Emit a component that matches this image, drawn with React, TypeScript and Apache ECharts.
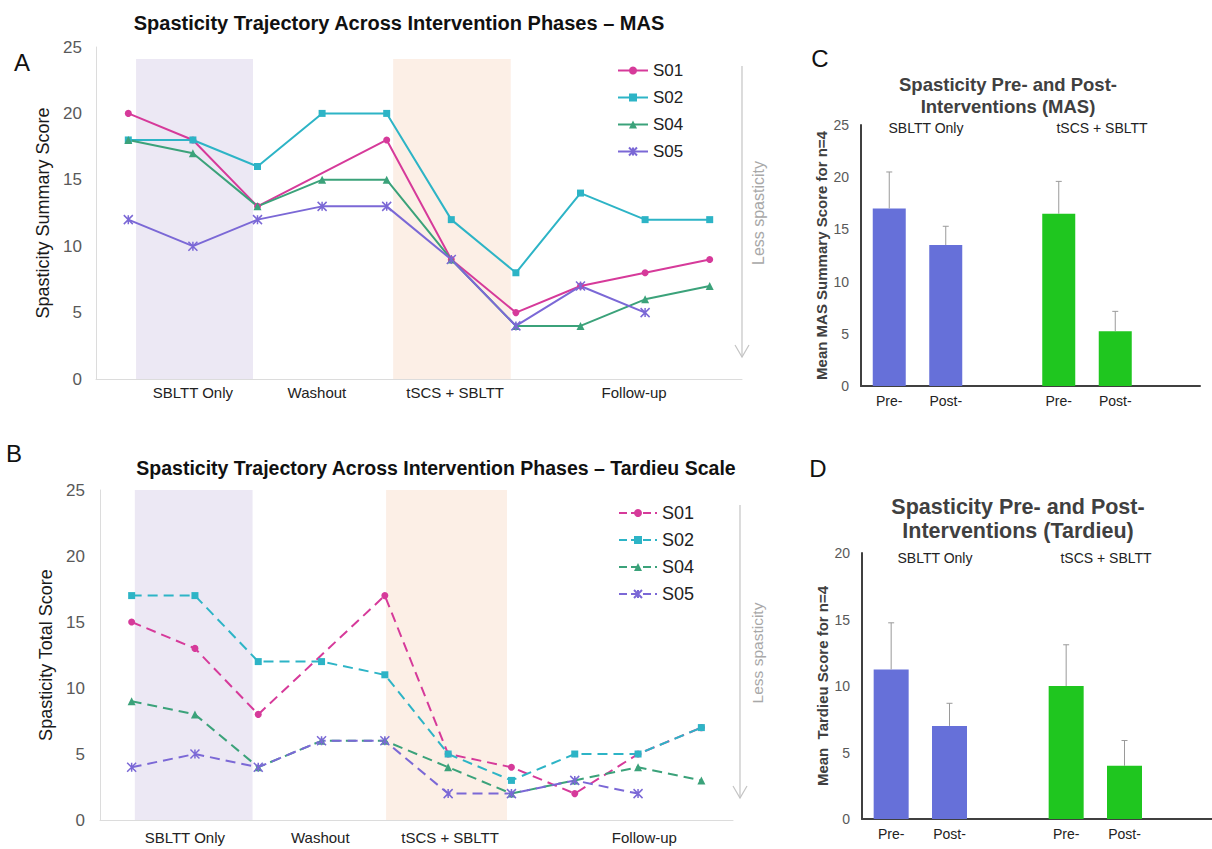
import React, { useEffect, useRef } from 'react';
import * as echarts from 'echarts';

// Participants and their line styling
const subjects = ['S01', 'S02', 'S04', 'S05'];
const subjectColors = ['#d63a9a', '#2db4c6', '#3ba27a', '#7b68d6'];
const subjectSymbols = ['circle', 'rect', 'triangle', 'path://M0,0L10,10M10,0L0,10M5,0L5,10'];
const subjectSymbolSizes = [7, 7, 8, 9];

// MAS summary scores at the ten assessment points (null = not assessed)
const masS01 = [20, 18, 13, null, 18, 9, 5, 7, 8, 9];
const masS02 = [18, 18, 16, 20, 20, 12, 8, 14, 12, 12];
const masS04 = [18, 17, 13, 15, 15, 9, 4, 4, 6, 7];
const masS05 = [12, 10, 12, 13, 13, 9, 4, 7, 5, null];

// Tardieu total scores at the same assessment points
const tardieuS01 = [15, 13, 8, null, 17, 5, 4, 2, 5, 7];
const tardieuS02 = [17, 17, 12, 12, 11, 5, 3, 5, 5, 7];
const tardieuS04 = [9, 8, 4, 6, 6, 4, 2, 3, 4, 3];
const tardieuS05 = [4, 5, 4, 6, 6, 2, 2, 3, 2, null];

// Phase labels along the assessment axis and the shaded intervention phases
const phaseLabels = ['SBLTT Only', 'Washout', 'tSCS + SBLTT', 'Follow-up'];
const masPhasePositions = [1, 2.92, 5.06, 7.83];
const tardieuPhasePositions = [0.84, 2.98, 5.03, 8.1];
const masBands = [[0.12, 1.93], [4.1, 5.92]];
const tardieuBands = [[0.05, 1.91], [4.02, 5.93]];
const masBandTop = 24.1;
const tardieuBandTop = 25;
const bandColors = ['#ece8f4', '#fcefe6'];

// Group means (n=4) with standard deviations
const barCategories = ['Pre-', 'Post-', '', 'Pre-', 'Post-', ''];
const barSlots = [0, 1, 3, 4];
const masMeans = [17, 13.5, 16.5, 5.25];
const masErrors = [3.5, 1.8, 3.1, 1.9];
const tardieuMeans = [11.25, 7, 10, 4];
const tardieuErrors = [3.5, 1.7, 3.1, 1.9];
const groupLabels = ['SBLTT Only', 'tSCS + SBLTT'];
const groupColors = ['#6670d9', '#1fc61f'];

const FONT = '"Liberation Sans", Arial, Helvetica, sans-serif';

function lineSeries(sets: (number | null)[][], axisIdx: number, dashed: boolean) {
  return sets.map((vals, k) => ({
    type: 'line',
    name: subjects[k],
    xAxisIndex: axisIdx,
    yAxisIndex: axisIdx,
    data: vals.map((v, i) => [i, v]).filter((p) => p[1] !== null),
    symbol: subjectSymbols[k],
    symbolSize: subjectSymbolSizes[k],
    showAllSymbol: true,
    lineStyle: { color: subjectColors[k], width: 2, type: dashed ? [10, 6] : 'solid' },
    itemStyle: {
      color: subjectColors[k],
      borderColor: subjectColors[k],
      borderWidth: k === 3 ? 1.5 : 0,
    },
    z: 3,
  }));
}

function bandSeries(bands: number[][], top: number, axisIdx: number) {
  return {
    type: 'line',
    name: 'phases',
    xAxisIndex: axisIdx,
    yAxisIndex: axisIdx,
    data: [],
    silent: true,
    z: 1,
    markArea: {
      silent: true,
      data: bands.map((b, j) => [
        { xAxis: b[0], yAxis: 0, itemStyle: { color: bandColors[j] } },
        { xAxis: b[1], yAxis: top },
      ]),
    },
  };
}

function phaseAxis(gridIndex: number, positions: number[], margin: number) {
  return {
    type: 'value',
    gridIndex,
    min: -0.5,
    max: 9.5,
    axisLine: { show: true, onZero: false, lineStyle: { color: '#dcdcdc', width: 1 } },
    axisTick: { show: false },
    splitLine: { show: false },
    axisLabel: {
      customValues: positions,
      margin,
      fontSize: 15,
      color: '#222',
      fontFamily: FONT,
      formatter: (v: number) => {
        const i = positions.findIndex((p) => Math.abs(p - v) < 1e-6);
        return i >= 0 ? phaseLabels[i] : '';
      },
    },
  };
}

function scoreAxis(gridIndex: number, name: string, nameGap: number, fontSize: number, margin: number) {
  return {
    type: 'value',
    gridIndex,
    min: 0,
    max: 25,
    interval: 5,
    name,
    nameLocation: 'middle',
    nameGap,
    nameTextStyle: { fontSize: 18, color: '#1a1a1a', fontFamily: FONT },
    axisLine: { show: true, onZero: false, lineStyle: { color: '#dcdcdc', width: 1 } },
    axisTick: { show: false },
    splitLine: { show: false },
    axisLabel: { fontSize, color: '#595959', margin, fontFamily: FONT },
  };
}

function barData(means: number[]) {
  return barCategories.map((_, i) => {
    const k = barSlots.indexOf(i);
    if (k < 0) return '-';
    return { value: means[k], itemStyle: { color: groupColors[k < 2 ? 0 : 1] } };
  });
}

function errorSeries(means: number[], errors: number[], axisIdx: number) {
  return {
    type: 'custom',
    xAxisIndex: axisIdx,
    yAxisIndex: axisIdx,
    z: 4,
    silent: true,
    encode: { x: 0, y: 2 },
    data: barSlots.map((s, k) => [s, means[k], means[k] + errors[k]]),
    renderItem: (_params: any, api: any) => {
      const x = api.value(0);
      const lo = api.coord([x, api.value(1)]);
      const hi = api.coord([x, api.value(2)]);
      const style = { stroke: '#9a9a9a', lineWidth: 1 };
      return {
        type: 'group',
        children: [
          { type: 'line', shape: { x1: lo[0], y1: lo[1], x2: hi[0], y2: hi[1] }, style },
          { type: 'line', shape: { x1: hi[0] - 3, y1: hi[1], x2: hi[0] + 3, y2: hi[1] }, style },
        ],
      };
    },
  };
}

function meanAxis(gridIndex: number, max: number, name: string) {
  return {
    type: 'value',
    gridIndex,
    min: 0,
    max,
    interval: 5,
    name,
    nameLocation: 'middle',
    nameGap: 32,
    nameTextStyle: { fontSize: 15, fontWeight: 'bold', color: '#404040', fontFamily: FONT },
    axisLine: { show: true, lineStyle: { color: '#404040', width: 2 } },
    axisTick: { show: false },
    splitLine: { show: false },
    axisLabel: { fontSize: 14, color: '#595959', margin: 12, fontFamily: FONT },
  };
}

function prePostAxis(gridIndex: number) {
  return {
    type: 'category',
    gridIndex,
    data: barCategories,
    axisLine: { show: true, lineStyle: { color: '#404040', width: 2 } },
    axisTick: { show: false },
    axisLabel: { interval: 0, fontSize: 14, color: '#222', margin: 8, fontFamily: FONT },
  };
}

function lessSpasticity(x: number, y1: number, y2: number, tx: number, ty: number, fs: number) {
  const stroke = '#c4c4c4';
  return [
    { type: 'line', shape: { x1: x, y1, x2: x, y2 }, style: { stroke, lineWidth: 1.2 } },
    {
      type: 'polyline',
      shape: { points: [[x - 7, y2 - 12], [x, y2], [x + 7, y2 - 12]] },
      style: { stroke, lineWidth: 1.2, fill: 'none' },
    },
    {
      type: 'text',
      x: tx,
      y: ty,
      rotation: Math.PI / 2,
      style: {
        text: 'Less spasticity',
        fill: '#a8a8a8',
        fontSize: fs,
        fontFamily: FONT,
        align: 'center',
        verticalAlign: 'middle',
      },
    },
  ];
}

function label(text: string, x: number, y: number, fontSize: number, color = '#111') {
  return {
    type: 'text',
    x,
    y,
    style: { text, fill: color, fontSize, fontFamily: FONT, align: 'center', verticalAlign: 'middle' },
  };
}

const option: any = {
  animation: false,
  backgroundColor: '#ffffff',
  textStyle: { fontFamily: FONT },
  title: [
    {
      text: 'Spasticity Trajectory Across Intervention Phases – MAS',
      left: 394,
      top: 8,
      textAlign: 'center',
      textStyle: { fontSize: 20, fontWeight: 'bold', color: '#111', fontFamily: FONT },
    },
    {
      text: 'Spasticity Trajectory Across Intervention Phases – Tardieu Scale',
      left: 431,
      top: 453,
      textAlign: 'center',
      textStyle: { fontSize: 19.5, fontWeight: 'bold', color: '#111', fontFamily: FONT },
    },
    {
      text: 'Spasticity Pre- and Post-\nInterventions (MAS)',
      left: 1003,
      top: 68,
      textAlign: 'center',
      textStyle: { fontSize: 18.5, lineHeight: 22, fontWeight: 'bold', color: '#404040', fontFamily: FONT },
    },
    {
      text: 'Spasticity Pre- and Post-\nInterventions (Tardieu)',
      left: 1013,
      top: 490,
      textAlign: 'center',
      textStyle: { fontSize: 21.5, lineHeight: 24, fontWeight: 'bold', color: '#404040', fontFamily: FONT },
    },
  ],
  legend: [
    {
      left: 612,
      top: 57,
      orient: 'vertical',
      itemWidth: 30,
      itemHeight: 10,
      itemGap: 10,
      textStyle: { fontSize: 17, color: '#222', fontFamily: FONT },
      data: subjects,
    },
    {
      left: 613,
      top: 499,
      orient: 'vertical',
      itemWidth: 38,
      itemHeight: 10,
      itemGap: 9,
      textStyle: { fontSize: 18, color: '#222', fontFamily: FONT },
      data: subjects.map((s) => ({ name: s, lineStyle: { type: [8, 4] } })),
    },
  ],
  grid: [
    { left: 96, top: 47, width: 646, height: 332 },
    { left: 100, top: 490, width: 633, height: 330 },
    { left: 861, top: 125, width: 339, height: 261 },
    { left: 862, top: 553, width: 354, height: 266 },
  ],
  xAxis: [
    phaseAxis(0, masPhasePositions, 6),
    phaseAxis(1, tardieuPhasePositions, 10),
    prePostAxis(2),
    prePostAxis(3),
  ],
  yAxis: [
    scoreAxis(0, 'Spasticity Summary Score', 41, 17, 14),
    scoreAxis(1, 'Spasticity Total Score', 38, 17, 15),
    meanAxis(2, 25, 'Mean MAS Summary Score for n=4'),
    meanAxis(3, 20, 'Mean  Tardieu Score for n=4'),
  ],
  series: [
    bandSeries(masBands, masBandTop, 0),
    bandSeries(tardieuBands, tardieuBandTop, 1),
    ...lineSeries([masS01, masS02, masS04, masS05], 0, false),
    ...lineSeries([tardieuS01, tardieuS02, tardieuS04, tardieuS05], 1, true),
    {
      type: 'bar',
      xAxisIndex: 2,
      yAxisIndex: 2,
      barWidth: 33,
      data: barData(masMeans),
      z: 2,
    },
    errorSeries(masMeans, masErrors, 2),
    {
      type: 'bar',
      xAxisIndex: 3,
      yAxisIndex: 3,
      barWidth: 35,
      data: barData(tardieuMeans),
      z: 2,
    },
    errorSeries(tardieuMeans, tardieuErrors, 3),
  ],
  graphic: [
    label('A', 22, 62, 24),
    label('B', 14, 453, 24),
    label('C', 820, 58, 24),
    label('D', 818, 468, 24),
    ...lessSpasticity(742, 66, 357, 758, 213, 16),
    ...lessSpasticity(740, 505, 798, 757, 653, 15.5),
    label(groupLabels[0], 926, 128, 14, '#222'),
    label(groupLabels[1], 1102, 128, 14, '#222'),
    label(groupLabels[0], 935, 558, 14, '#222'),
    label(groupLabels[1], 1106, 558, 14, '#222'),
  ],
};

export default function App() {
  const ref = useRef<HTMLDivElement>(null);
  useEffect(() => {
    if (!ref.current) return;
    const chart = echarts.init(ref.current, null, { renderer: 'svg' });
    chart.setOption(option);
    return () => chart.dispose();
  }, []);
  return (
    <div
      ref={ref}
      style={{ position: 'absolute', left: 0, top: 0, width: 1212, height: 849, background: '#fff' }}
    />
  );
}
